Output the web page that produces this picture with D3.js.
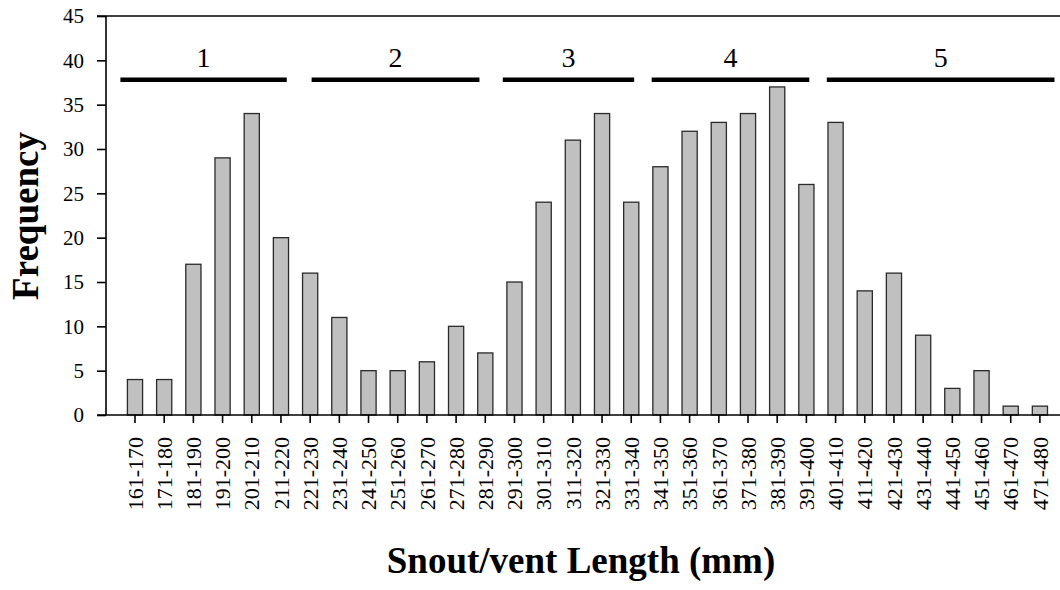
<!DOCTYPE html>
<html>
<head>
<meta charset="utf-8">
<script src="https://cdn.jsdelivr.net/npm/d3@7"></script>
<style>
  body { margin: 0; background: #fff; }
  svg { display: block; font-family: "Liberation Serif", "Times New Roman", serif; }
</style>
</head>
<body>
<svg id="drawing_region"></svg>
<script>
// bins of snout/vent length (mm)
const categories = ['161-170','171-180','181-190','191-200','201-210','211-220','221-230','231-240',
  '241-250','251-260','261-270','271-280','281-290','291-300','301-310','311-320','321-330','331-340',
  '341-350','351-360','361-370','371-380','381-390','391-400','401-410','411-420','421-430','431-440',
  '441-450','451-460','461-470','471-480']
const frequency = [4,4,17,29,34,20,16,11,5,5,6,10,7,15,24,31,34,24,28,32,33,34,37,26,33,14,16,9,3,5,1,1]
const yTicks = [0,5,10,15,20,25,30,35,40,45]

// size-class groups, spans given in bin positions
const groupLabels = ['1','2','3','4','5']
const groupStart = [-0.5, 6.05, 12.6, 17.7, 23.7]
const groupEnd = [5.2, 11.8, 17.1, 23.1, 31.5]
const groupLevel = 37.8

const width = 1060, height = 590
const svg = d3.select('#drawing_region').attr('width', width).attr('height', height)

const xscale = d3.scaleBand().domain(categories).range([120.4, 1054.5])
  .paddingInner(0.48).paddingOuter(0.24)
const yscale = d3.scaleLinear().domain([0, 45]).range([415, 16])

const binX = i => xscale(categories[0]) + xscale.bandwidth() / 2 + i * xscale.step()

// frame line on top
svg.append('line')
  .attr('x1', 97).attr('x2', width)
  .attr('y1', yscale(45)).attr('y2', yscale(45))
  .attr('stroke', '#000').attr('stroke-width', 1.6)

// bars
svg.append('g').selectAll('rect')
  .data(frequency).enter()
  .append('rect')
  .attr('x', (d, i) => xscale(categories[i]))
  .attr('y', d => yscale(d))
  .attr('width', xscale.bandwidth())
  .attr('height', d => yscale(0) - yscale(d))
  .attr('fill', '#c0c0c0')
  .attr('stroke', '#2a2a2a')
  .attr('stroke-width', 1.3)

// y axis
const yaxis = d3.axisLeft(yscale).tickValues(yTicks).tickSize(9).tickPadding(13)
const yg = svg.append('g').attr('transform', 'translate(106,0)').call(yaxis)
yg.select('.domain').remove()
yg.append('line').attr('x1', 0).attr('x2', 0).attr('y1', yscale(45)).attr('y2', yscale(0))
  .attr('stroke', '#000').attr('stroke-width', 1.6)
yg.selectAll('.tick line').attr('stroke-width', 1.6)
yg.selectAll('.tick text').attr('font-size', 21).attr('font-family', '"Liberation Serif", serif').attr('fill', '#000')

// x axis
const xaxis = d3.axisBottom(xscale).tickSize(8).tickPadding(0)
const xg = svg.append('g').attr('transform', `translate(0,${yscale(0)})`).call(xaxis)
xg.select('.domain').remove()
xg.append('line').attr('x1', 97).attr('x2', width).attr('y1', 0).attr('y2', 0)
  .attr('stroke', '#000').attr('stroke-width', 1.6)
xg.selectAll('.tick line').attr('stroke-width', 1.6)
xg.selectAll('.tick text')
  .attr('font-size', 22)
  .attr('font-family', '"Liberation Serif", serif')
  .attr('fill', '#000')
  .attr('text-anchor', 'end')
  .attr('dy', '0.35em')
  .attr('transform', 'translate(0,22) rotate(-90)')
  .attr('x', 0).attr('y', 0)

// group bars and numbers
const groups = svg.append('g')
groups.selectAll('line')
  .data(groupLabels).enter()
  .append('line')
  .attr('x1', (d, i) => binX(groupStart[i]))
  .attr('x2', (d, i) => binX(groupEnd[i]))
  .attr('y1', yscale(groupLevel)).attr('y2', yscale(groupLevel))
  .attr('stroke', '#000').attr('stroke-width', 4.5)
groups.selectAll('text')
  .data(groupLabels).enter()
  .append('text')
  .attr('x', (d, i) => (binX(groupStart[i]) + binX(groupEnd[i])) / 2)
  .attr('y', yscale(groupLevel) - 13)
  .attr('text-anchor', 'middle')
  .attr('font-size', 28)
  .text(d => d)

// axis titles
svg.append('text')
  .attr('transform', `translate(38,${216}) rotate(-90)`)
  .attr('text-anchor', 'middle')
  .attr('font-size', 37)
  .attr('font-weight', 'bold')
  .text('Frequency')

svg.append('text')
  .attr('x', 581).attr('y', 573)
  .attr('text-anchor', 'middle')
  .attr('font-size', 37)
  .attr('font-weight', 'bold')
  .text('Snout/vent Length (mm)')
</script>
</body>
</html>
